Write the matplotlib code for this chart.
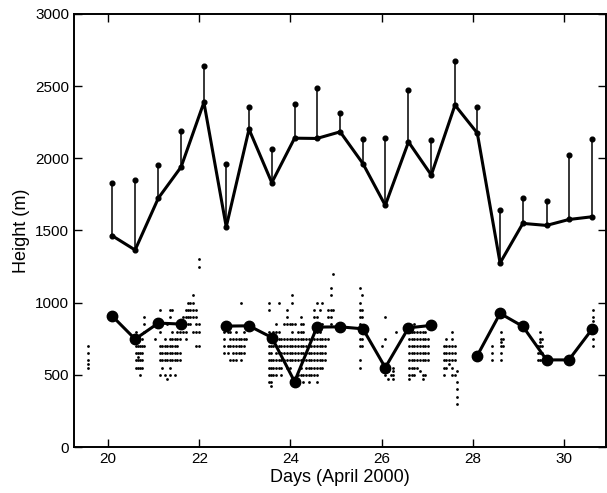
import matplotlib.pyplot as plt
import numpy as np

plt.rcParams['font.family'] = ['Liberation Sans', 'DejaVu Sans']

# sampling days (April 2000)
days = [20.08, 20.59, 21.10, 21.60, 22.10, 22.59, 23.09, 23.59, 24.09, 24.58, 25.09,
        25.59, 26.08, 26.59, 27.09, 27.61, 28.10, 28.60, 29.10, 29.62, 30.11, 30.62]

# upper layer height and its upper bound
top_height = [1465, 1365, 1724, 1940, 2387, 1525, 2201, 1831, 2139, 2137, 2183,
              1963, 1674, 2113, 1884, 2368, 2174, 1275, 1549, 1535, 1576, 1595]
top_bound = [1826, 1849, 1951, 2192, 2641, 1960, 2354, 2067, 2375, 2486, 2310,
             2132, 2137, 2472, 2127, 2676, 2352, 1639, 1727, 1704, 2023, 2132]

# lower layer mean height (nan = no data)
low_height = [910, 748, 859, 852, np.nan, 838, 840, 759, 454, 831, 833,
              819, 551, 826, 843, np.nan, 634, 926, 836, 604, 604, 817]

# individual profile heights, one list per time column
profile_days = [
    19.55,
    20.62, 20.66, 20.70, 20.74, 20.78,
    21.03, 21.13, 21.18, 21.24, 21.30, 21.35, 21.40, 21.46, 21.52, 21.58, 21.64,
    21.70, 21.75, 21.80, 21.86, 21.92, 22.00,
    22.55, 22.62, 22.68, 22.74, 22.80, 22.86, 22.92, 22.98, 23.03,
    23.52, 23.57, 23.62, 23.68, 23.74, 23.80, 23.86, 23.92, 23.98, 24.04, 24.10,
    24.16, 24.22, 24.28, 24.34, 24.40, 24.46, 24.52, 24.58, 24.64, 24.70, 24.76,
    24.82, 24.88, 24.94,
    25.52, 25.57,
    26.00, 26.08, 26.14, 26.20, 26.25, 26.31,
    26.60, 26.66, 26.72, 26.78, 26.84, 26.90, 26.96, 27.02,
    27.36, 27.42, 27.48, 27.54, 27.60, 27.66,
    28.43, 28.62, 28.66,
    29.43, 29.48, 29.53,
    30.64,
]
profile_heights = [
    [700, 650, 600, 575, 550],
    [800, 700, 650, 600, 550],
    [750, 700, 650, 625, 600, 550],
    [700, 650, 600, 550, 500],
    [750, 700, 650, 600, 550],
    [900, 850, 800, 700],
    [750],
    [950, 800, 700, 650, 600, 500],
    [700, 650, 600, 550],
    [750, 700, 650, 600, 500],
    [850, 700, 650, 600, 475],
    [950, 900, 750, 700, 650, 600, 550, 500],
    [950, 800, 750, 700, 650, 600],
    [750, 700, 650, 600, 500],
    [800, 750, 700, 650, 600],
    [800, 750, 650, 600],
    [900, 850, 800],
    [950, 900, 800, 750],
    [1000, 950, 900, 850],
    [1000, 950, 900, 850],
    [1050, 1000, 950, 900, 800],
    [950, 900, 850, 800, 700],
    [1300, 1250, 850, 800, 700],
    [800, 750, 700, 650],
    [850, 800, 700, 650],
    [800, 750, 700, 600],
    [750, 700, 650, 600],
    [800, 750, 700, 650, 600],
    [750, 700, 650],
    [1000, 750, 700, 650, 600],
    [800, 750, 700, 650],
    [750],
    [1000, 950, 800, 750, 700, 650, 600, 550, 500, 450],
    [750, 700, 650, 600, 550, 500, 450, 425],
    [800, 750, 700, 600, 550, 500],
    [850, 800, 750, 700, 650, 600, 550, 500],
    [1000, 800, 750, 700, 650, 600, 550],
    [750, 700, 650, 600, 550, 500],
    [850, 750, 700, 650, 600],
    [950, 900, 850, 750, 700, 650, 600, 550],
    [850, 750, 700, 650, 600, 550],
    [1050, 1000, 850, 800, 750, 700, 650, 600],
    [850, 750, 700, 650, 600],
    [800, 750, 700, 650, 600, 500, 450],
    [900, 850, 800, 750, 700, 650, 600, 550, 500],
    [850, 800, 750, 700, 650, 600, 500, 450],
    [750, 700, 650, 600, 550, 500],
    [750, 700, 650, 600, 550, 500, 450],
    [700, 650, 600, 550, 500],
    [950, 900, 800, 750, 700, 650, 600, 550, 500],
    [1000, 900, 800, 750, 700, 650, 600, 550, 500, 450],
    [950, 800, 750, 700, 650, 600, 550],
    [1000, 850, 750, 700, 650, 600, 550],
    [750, 700, 650, 600],
    [950, 900, 750],
    [1100, 1050, 950, 900, 850],
    [1200, 950],
    [1100, 1000, 950, 900, 850, 800, 750, 700, 600, 550],
    [1050, 950, 900, 800, 750, 700],
    [700],
    [900, 750, 500],
    [525, 475],
    [500],
    [550, 525, 500, 475],
    [800],
    [800, 750, 700, 650, 600, 550, 500, 475],
    [800, 750, 700, 650, 600, 550, 500],
    [850, 800, 750, 700, 650, 600, 550, 500],
    [800, 750, 700, 650, 600, 550],
    [800, 750, 700, 650, 600, 525],
    [800, 750, 700, 650, 600, 500, 475],
    [800, 750, 700, 650, 600, 500],
    [750, 700, 650, 600],
    [700, 650, 600, 550, 500],
    [750, 700, 650, 600, 550],
    [700, 650, 600, 575],
    [800, 750, 700, 650, 600, 550, 500],
    [700, 650, 600, 500],
    [525, 450, 400, 350, 300],
    [700, 650, 600],
    [800, 750, 725, 700, 650, 600],
    [750, 700],
    [700, 650, 600],
    [800, 750, 725, 700, 650, 600],
    [750, 700, 650, 600],
    [950, 900, 875, 800, 750, 700],
]

fig = plt.figure(figsize=(6.07, 4.93), dpi=100)
ax = fig.add_axes([0.122, 0.093, 0.876, 0.879])

# profile scatter
px = [d for d, hs in zip(profile_days, profile_heights) for _ in hs]
py = [h for hs in profile_heights for h in hs]
ax.plot(px, py, 'o', color='black', markersize=2.0, markeredgewidth=0)

# upper layer with one-sided bars
ax.vlines(days, top_height, top_bound, color='black', linewidth=1.1)
ax.plot(days, top_bound, 'o', color='black', markersize=3.4)
ax.plot(days, top_height, '-o', color='black', linewidth=2.2, markersize=3.4)

# lower layer
ax.plot(days, low_height, '-o', color='black', linewidth=2.2, markersize=7.5)

ax.set_xlim(19.25, 30.92)
ax.set_ylim(0, 3000)
ax.set_xticks([20, 22, 24, 26, 28, 30])
ax.set_yticks(np.arange(0, 3001, 500))
ax.tick_params(direction='in', length=6, width=1, labelsize=11,
               top=True, right=True)
for side in ax.spines.values():
    side.set_linewidth(1.4)

ax.set_xlabel('Days (April 2000)', fontsize=13, labelpad=2)
ax.set_ylabel('Height (m)', fontsize=13, labelpad=4)

fig.savefig('out.png', dpi=100)
